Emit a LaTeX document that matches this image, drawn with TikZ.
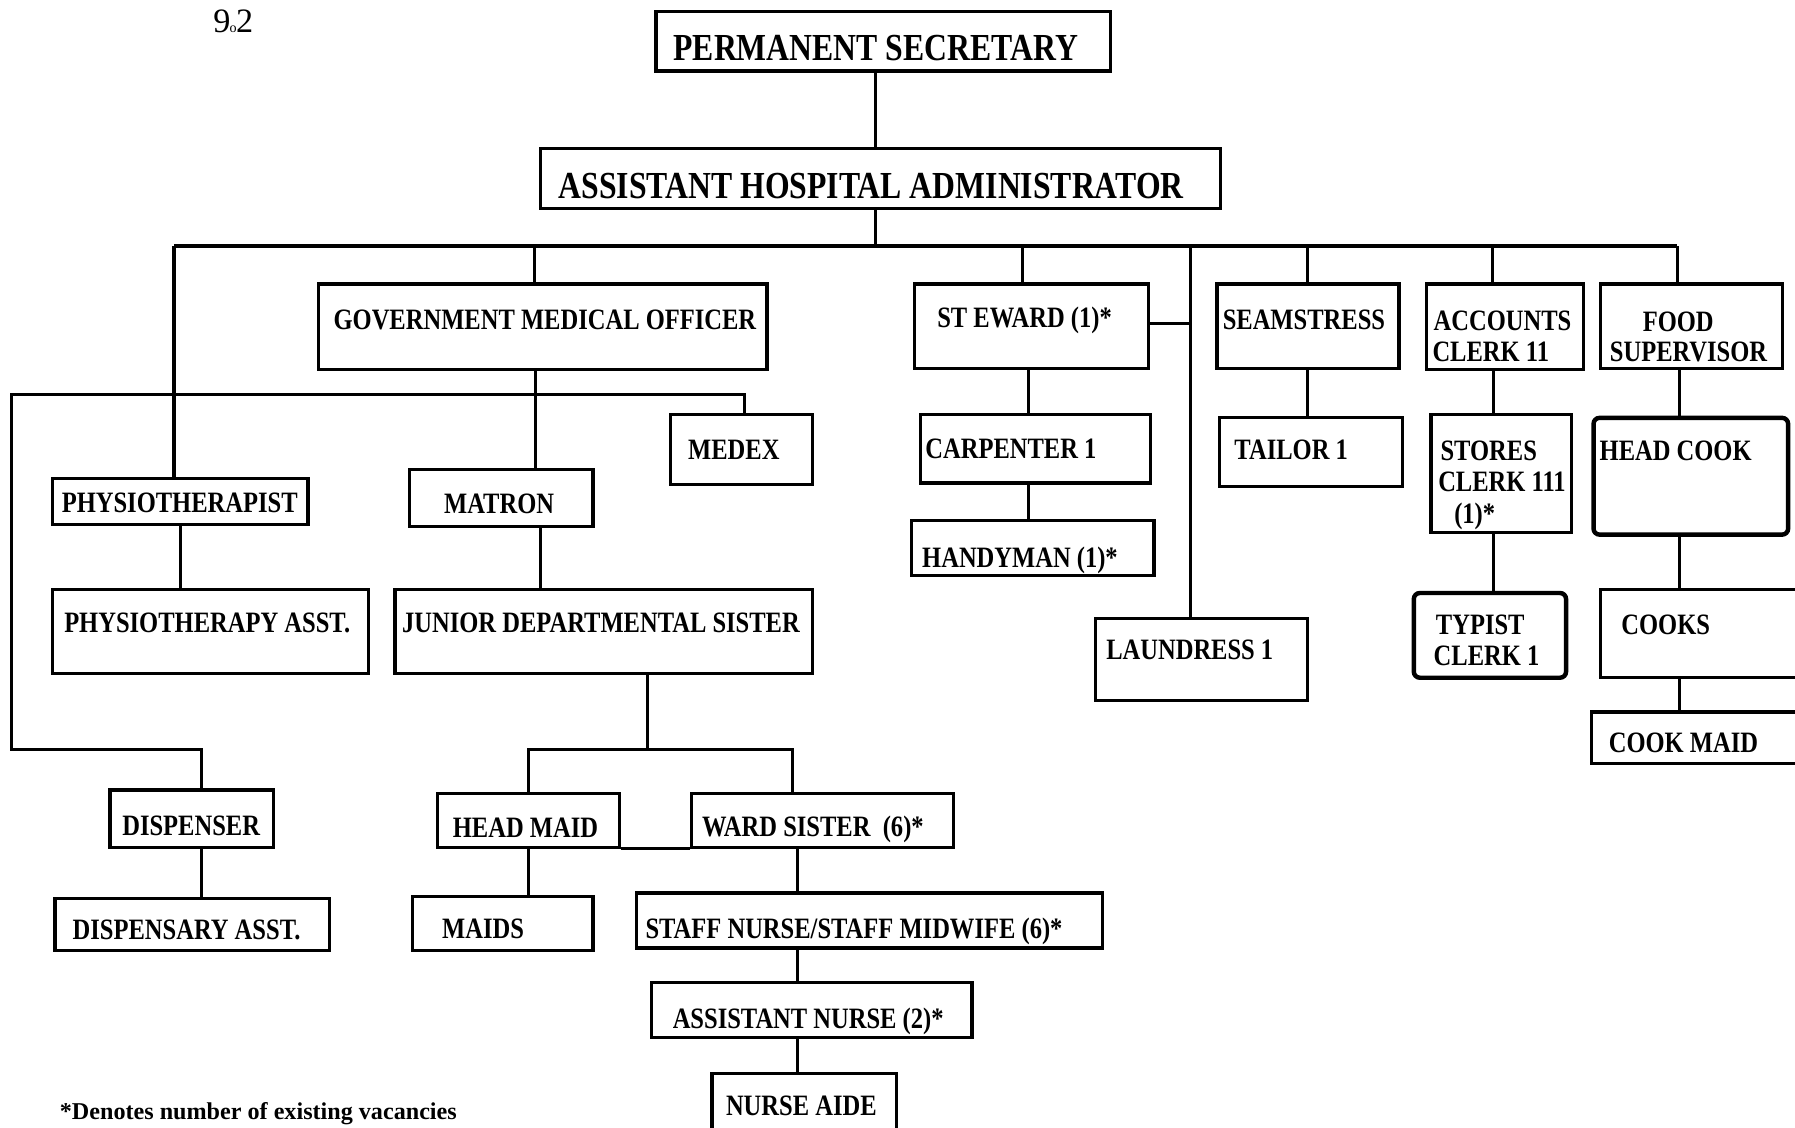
\documentclass[tikz,border=0pt]{standalone}
\usepackage{fontspec}
\setmainfont{Liberation Serif}
\newfontfamily\chartfont{Liberation Serif}[FakeStretch=0.83]
\usetikzlibrary{fit}
\begin{document}
\begin{tikzpicture}[x=0.02cm, y=-0.02cm,
  box/.style={draw, line width=1.6pt, inner sep=0pt},
  roundbox/.style={box, line width=2.2pt, rounded corners=3pt},
  wire/.style={line width=1.5pt},
  bus/.style={line width=2.2pt},
  lbl/.style={font=\chartfont\bfseries\fontsize{14.7}{16}\selectfont, inner sep=0pt, anchor=base},
  lbll/.style={lbl, anchor=base west},
  toplbl/.style={lbl, font=\chartfont\bfseries\fontsize{19}{21}\selectfont},
  note/.style={font=\fontsize{12.6}{14}\selectfont, inner sep=0pt, anchor=base west},
]
\clip (0,0) rectangle (1568,985);
\fill[white] (0,0) rectangle (1568,985);

% ---------- boxes ----------
\node[box, fit={(573,10) (970,62)}] (ps) {};
\node[box, fit={(472,130) (1066,182)}] (aha) {};
\node[box, fit={(278,248) (670,323)}] (gmo) {};
\node[box, fit={(799,248) (1003,322)}] (steward) {};
\node[box, fit={(1063,248) (1222,322)}] (seam) {};
\node[box, fit={(1246,248) (1383,323)}] (acct) {};
\node[box, fit={(1398,248) (1557,322)}] (food) {};
\node[box, fit={(46,418) (269,458)}] (physio) {};
\node[box, fit={(358,410) (518,460)}] (matron) {};
\node[box, fit={(586,362) (710,423)}] (medex) {};
\node[box, fit={(804,362) (1005,422)}] (carp) {};
\node[box, fit={(796,455) (1008,503)}] (handy) {};
\node[box, fit={(1065,365) (1225,425)}] (tailor) {};
\node[box, fit={(1250,362) (1373,465)}] (stores) {};
\node[roundbox, fit={(1392,365) (1562,467)}] (headcook) {};
\node[box, fit={(46,515) (322,588)}] (physasst) {};
\node[box, fit={(345,515) (710,588)}] (jds) {};
\node[box, fit={(957,540) (1142,612)}] (laundress) {};
\node[roundbox, fit={(1235,518) (1368,592)}] (typist) {};
\node[box, fit={(1398,515) (1585,592)}] (cooks) {};
\node[box, fit={(1390,622) (1585,667)}] (cookmaid) {};
\node[box, fit={(96,690) (239,740)}] (dispenser) {};
\node[box, fit={(382,693) (541,740)}] (headmaid) {};
\node[box, fit={(604,693) (833,740)}] (ward) {};
\node[box, fit={(48,785) (288,830)}] (dispasst) {};
\node[box, fit={(360,783) (518,830)}] (maids) {};
\node[box, fit={(556,780) (963,828)}] (staff) {};
\node[box, fit={(569,858) (849,906)}] (asstnurse) {};
\node[box, fit={(622,938) (783,995)}] (aide) {};

% ---------- labels ----------
\node[toplbl] (t-ps) at (765,53) {PERMANENT SECRETARY};
\node[toplbl] (t-aha) at (761,173) {ASSISTANT HOSPITAL ADMINISTRATOR};
\node[lbl] (t-gmo) at (476,287.5) {GOVERNMENT MEDICAL OFFICER};
\node[lbl] (t-stw) at (895,286.5) {ST EWARD (1)*};
\node[lbl] (t-sea) at (1139,287.5) {SEAMSTRESS};
\node[lbll] (t-acc1) at (1252,288.5) {ACCOUNTS};
\node[lbll] (t-acc2) at (1251,315.5) {CLERK 11};
\node[lbl] (t-food1) at (1466,289.5) {FOOD};
\node[lbl] (t-food2) at (1475,315.5) {SUPERVISOR};
\node[lbl] (t-phy) at (157,447.5) {PHYSIOTHERAPIST};
\node[lbl] (t-mat) at (436,448.5) {MATRON};
\node[lbl] (t-medex) at (641,401.5) {MEDEX};
\node[lbll] (t-carp) at (808,400.5) {CARPENTER 1};
\node[lbl] (t-handy) at (891,495.5) {HANDYMAN (1)*};
\node[lbll] (t-tail) at (1078,401.5) {TAILOR 1};
\node[lbll] (t-sto1) at (1258,402.5) {STORES};
\node[lbll] (t-sto2) at (1256,429.5) {CLERK 111};
\node[lbll] (t-sto3) at (1270,457.5) {(1)*};
\node[lbll] (t-hc) at (1397,402.5) {HEAD COOK};
\node[lbl] (t-pa) at (181,552.5) {PHYSIOTHERAPY ASST.};
\node[lbl] (t-jds) at (525,552.5) {JUNIOR DEPARTMENTAL SISTER};
\node[lbll] (t-lau) at (966,576.5) {LAUNDRESS 1};
\node[lbll] (t-typ1) at (1254,554.5) {TYPIST};
\node[lbll] (t-typ2) at (1252,581.5) {CLERK 1};
\node[lbll] (t-cooks) at (1416,554.5) {COOKS};
\node[lbll] (t-cm) at (1405,657.5) {COOK MAID};
\node[lbl] (t-disp) at (167,729.5) {DISPENSER};
\node[lbl] (t-hm) at (459,731.5) {HEAD MAID};
\node[lbll] (t-ward) at (613,730.5) {WARD SISTER\ \ (6)*};
\node[lbl] (t-da) at (163,820.5) {DISPENSARY ASST.};
\node[lbl] (t-maids) at (422,819.5) {MAIDS};
\node[lbl] (t-staff) at (746,819.5) {STAFF NURSE/STAFF MIDWIFE (6)*};
\node[lbl] (t-an) at (706,898.5) {ASSISTANT NURSE (2)*};
\node[lbl] (t-aide) at (700,974.5) {NURSE AIDE};

\node[note, font=\fontsize{17}{18}\selectfont] (pg) at (186,28) {9\kern-0.02em\raisebox{-0.05ex}{\scriptsize o}\kern-0.02em 2};
\node[note, font=\bfseries\fontsize{12}{14}\selectfont] (fn) at (52,978) {*Denotes number of existing vacancies};

% ---------- top of the chart ----------
\coordinate (j-aha) at (765,215);
\draw[wire] (ps.south -| j-aha) -- (aha.north -| j-aha);
\draw[wire] (aha.south -| j-aha) -- (j-aha);

% main rail under the administrator
\coordinate (bus-w) at (152,215);
\coordinate (j-food) at (1465,215);
\draw[bus] (bus-w) -- (j-food);

\coordinate (j-gmo) at (467,215);
\coordinate (j-stw) at (893,215);
\coordinate (j-lau) at (1040,215);
\coordinate (j-lau-s) at (1040,283);
\coordinate (j-sea) at (1142,215);
\coordinate (j-acc) at (1304,215);
\draw[wire] (bus-w) -- (bus-w |- physio.north);
\draw[wire] (j-gmo) -- (j-gmo |- gmo.north);
\draw[wire] (j-stw) -- (j-stw |- steward.north);
\draw[wire] (j-lau) -- (j-lau |- laundress.north);
\draw[wire] (steward.east |- j-lau-s) -- (j-lau-s);
\draw[wire] (j-sea) -- (j-sea |- seam.north);
\draw[wire] (j-acc) -- (j-acc |- acct.north);
\draw[wire] (j-food) -- (j-food |- food.north);

% medical officer branch
\coordinate (g-x) at (468,345);
\coordinate (g-e) at (650,345);
\coordinate (g-w) at (10,345);
\coordinate (d-c) at (10,655);
\coordinate (d-t) at (176,655);
\draw[wire] (gmo.south -| g-x) -- (matron.north -| g-x);
\draw[wire] (medex.north -| g-e) -- (g-e) -- (g-w) -- (d-c) -- (d-t) -- (dispenser.north -| d-t);
\draw[wire] (dispenser.south -| d-t) -- (dispasst.north -| d-t);
\draw[wire] (physio.south) -- (physio.south |- physasst.north);

% nursing line
\coordinate (m-x) at (472,0);
\coordinate (n-c) at (566,655);
\coordinate (n-w) at (462,655);
\coordinate (n-e) at (692,655);
\coordinate (w-x) at (697,0);
\draw[wire] (matron.south -| m-x) -- (jds.north -| m-x);
\draw[wire] (jds.south -| n-c) -- (n-c);
\draw[wire] (headmaid.north -| n-w) -- (n-w) -- (n-e) -- (ward.north -| n-e);
\draw[box] (headmaid.south east) -- (ward.south west);
\draw[wire] (headmaid.south -| n-w) -- (maids.north -| n-w);
\draw[wire] (ward.south -| w-x) -- (staff.north -| w-x);
\draw[wire] (staff.south -| w-x) -- (asstnurse.north -| w-x);
\draw[wire] (asstnurse.south -| w-x) -- (aide.north -| w-x);

% steward, seamstress, accounts, food
\coordinate (s-x) at (898,0);
\coordinate (a-x) at (1305,0);
\coordinate (f-x) at (1467,0);
\draw[wire] (steward.south -| s-x) -- (carp.north -| s-x);
\draw[wire] (carp.south -| s-x) -- (handy.north -| s-x);
\draw[wire] (seam.south) -- (seam.south |- tailor.north);
\draw[wire] (acct.south -| a-x) -- (stores.north -| a-x);
\draw[wire] (stores.south -| a-x) -- (typist.north -| a-x);
\draw[wire] (food.south -| f-x) -- (headcook.north -| f-x);
\draw[wire] (headcook.south -| f-x) -- (cooks.north -| f-x);
\draw[wire] (cooks.south -| f-x) -- (cookmaid.north -| f-x);
\end{tikzpicture}
\end{document}
